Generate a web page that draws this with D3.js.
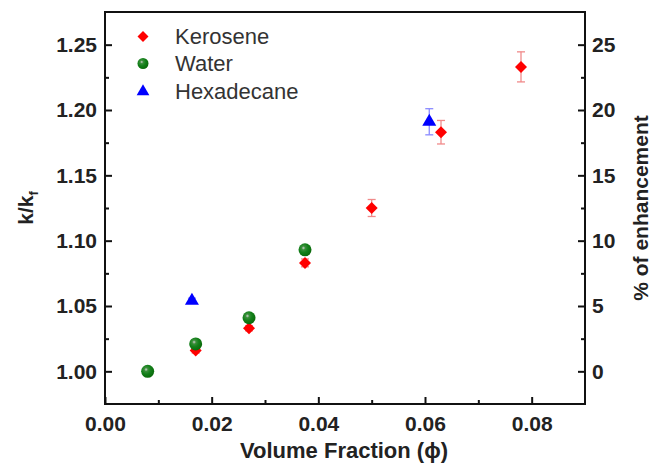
<!DOCTYPE html>
<html>
<head>
<meta charset="utf-8">
<script src="https://cdn.jsdelivr.net/npm/d3@7"></script>
<style>
  body { margin: 0; background: #fff; }
  text { font-family: "Liberation Sans", Arial, sans-serif; }
</style>
</head>
<body>
<script>
// data
var keroseneX = [0.017, 0.027, 0.0375, 0.050, 0.063, 0.078];
var keroseneY = [1.016, 1.033, 1.083, 1.125, 1.183, 1.233];
var keroseneErr = [0.002, 0.002, 0.003, 0.0065, 0.009, 0.0115];

var waterX = [0.008, 0.017, 0.027, 0.0375];
var waterY = [1.000, 1.021, 1.041, 1.093];

var hexX = [0.0163, 0.0608];
var hexY = [1.054, 1.191];
var hexErr = [0.002, 0.010];

var xTicks = [0, 0.02, 0.04, 0.06, 0.08];
var yTicks = [1.00, 1.05, 1.10, 1.15, 1.20, 1.25];
var pctTicks = [0, 5, 10, 15, 20, 25];

var legendNames = ["Kerosene", "Water", "Hexadecane"];

var width = 660, height = 464;
var margin = {top: 12, right: 76, bottom: 60, left: 105};

var svg = d3.select("body")
  .append("svg")
    .attr("width", width)
    .attr("height", height);

var defs = svg.append("defs");
var grad = defs.append("radialGradient")
    .attr("id", "ball")
    .attr("cx", "38%").attr("cy", "36%").attr("r", "65%");
grad.append("stop").attr("offset", "0%").attr("stop-color", "#d0d0d0");
grad.append("stop").attr("offset", "22%").attr("stop-color", "#3a8f3a");
grad.append("stop").attr("offset", "55%").attr("stop-color", "#13801a");
grad.append("stop").attr("offset", "100%").attr("stop-color", "#0a6a0a");

var x = d3.scaleLinear()
    .domain([0, 0.09])
    .range([margin.left, width - margin.right + 1]);

var y = d3.scaleLinear()
    .domain([0.975, 1.275])
    .range([height - margin.bottom, margin.top]);

// right axis: percent of enhancement, same as (k/kf - 1) * 100
var y2 = d3.scaleLinear()
    .domain([(0.975 - 1) * 100, (1.275 - 1) * 100])
    .range([height - margin.bottom, margin.top]);

var x0 = x.range()[0], x1 = x.range()[1];
var yb = y.range()[0], yt = y.range()[1];

function styleAxis(g) {
  g.select(".domain").remove();
  g.selectAll(".tick line").attr("stroke", "#111").attr("stroke-width", 2);
  g.selectAll(".tick text")
    .attr("fill", "#222")
    .style("font-size", "21px")
    .style("font-weight", "bold");
}

// minor ticks
svg.append("g")
  .attr("transform", "translate(0," + yb + ")")
  .call(d3.axisBottom(x).tickValues([0.01, 0.03, 0.05, 0.07]).tickSize(-4).tickFormat(""))
  .call(styleAxis);
svg.append("g")
  .attr("transform", "translate(" + x0 + ",0)")
  .call(d3.axisLeft(y).tickValues([1.025, 1.075, 1.125, 1.175, 1.225]).tickSize(-4).tickFormat(""))
  .call(styleAxis);
svg.append("g")
  .attr("transform", "translate(" + x1 + ",0)")
  .call(d3.axisRight(y2).tickValues([2.5, 7.5, 12.5, 17.5, 22.5]).tickSize(-4).tickFormat(""))
  .call(styleAxis);

// major ticks
svg.append("g")
  .attr("transform", "translate(0," + yb + ")")
  .call(d3.axisBottom(x).tickValues(xTicks).tickSize(-7).tickPadding(12).tickFormat(d3.format(".2f")))
  .call(styleAxis);
svg.append("g")
  .attr("transform", "translate(" + x0 + ",0)")
  .call(d3.axisLeft(y).tickValues(yTicks).tickSize(-7).tickPadding(8).tickFormat(d3.format(".2f")))
  .call(styleAxis);
svg.append("g")
  .attr("transform", "translate(" + x1 + ",0)")
  .call(d3.axisRight(y2).tickValues(pctTicks).tickSize(-7).tickPadding(7).tickFormat(d3.format("d")))
  .call(styleAxis);

// frame
svg.append("rect")
  .attr("x", x0).attr("y", yt)
  .attr("width", x1 - x0).attr("height", yb - yt)
  .attr("fill", "none")
  .attr("stroke", "#111")
  .attr("stroke-width", 2);

// axis titles
svg.append("text")
  .attr("x", 344)
  .attr("y", 458)
  .attr("text-anchor", "middle")
  .attr("fill", "#222")
  .style("font-size", "22px")
  .style("font-weight", "bold")
  .text("Volume Fraction (\u03D5)");

var yl = svg.append("text")
  .attr("transform", "translate(33," + ((yt + yb) / 2) + ") rotate(-90)")
  .attr("text-anchor", "middle")
  .attr("fill", "#222")
  .style("font-size", "21px")
  .style("font-weight", "bold");
yl.append("tspan").text("k/k");
yl.append("tspan").attr("dy", 5).style("font-size", "13px").text("f");

svg.append("text")
  .attr("transform", "translate(648," + ((yt + yb) / 2) + ") rotate(-90)")
  .attr("text-anchor", "middle")
  .attr("fill", "#222")
  .style("font-size", "21px")
  .style("font-weight", "bold")
  .text("% of enhancement");

// error bars
function errorBars(xs, ys, es, color) {
  var g = svg.append("g").attr("stroke", color).attr("stroke-width", 1.3);
  xs.forEach(function(d, i) {
    var cx = x(d), top = y(ys[i] + es[i]), bot = y(ys[i] - es[i]);
    g.append("line").attr("x1", cx).attr("x2", cx).attr("y1", top).attr("y2", bot);
    g.append("line").attr("x1", cx - 4).attr("x2", cx + 4).attr("y1", top).attr("y2", top);
    g.append("line").attr("x1", cx - 4).attr("x2", cx + 4).attr("y1", bot).attr("y2", bot);
  });
}
errorBars(keroseneX, keroseneY, keroseneErr, "#f08a8a");
errorBars(hexX, hexY, hexErr, "#8a8aff");

var diamond = d3.symbol().type(d3.symbolSquare).size(72);
var triangle = d3.symbol().type(d3.symbolTriangle).size(85);

// kerosene
svg.append("g").selectAll("path")
  .data(keroseneX)
  .enter()
  .append("path")
    .attr("d", diamond)
    .attr("transform", function(d, i) { return "translate(" + x(d) + "," + y(keroseneY[i]) + ") rotate(45)"; })
    .attr("fill", "#ff0000");

// water
svg.append("g").selectAll("circle")
  .data(waterX)
  .enter()
  .append("circle")
    .attr("cx", function(d) { return x(d); })
    .attr("cy", function(d, i) { return y(waterY[i]); })
    .attr("r", 6.5)
    .attr("fill", "url(#ball)");

// hexadecane
svg.append("g").selectAll("path")
  .data(hexX)
  .enter()
  .append("path")
    .attr("d", triangle)
    .attr("transform", function(d, i) { return "translate(" + x(d) + "," + y(hexY[i]) + ")"; })
    .attr("fill", "#0000ff");

// legend
var lg = svg.append("g");
var ly = [36.5, 63.5, 91.5];
lg.append("path")
  .attr("d", d3.symbol().type(d3.symbolSquare).size(60))
  .attr("transform", "translate(143," + ly[0] + ") rotate(45)")
  .attr("fill", "#ff0000");
lg.append("circle")
  .attr("cx", 143).attr("cy", ly[1]).attr("r", 5.5)
  .attr("fill", "url(#ball)");
lg.append("path")
  .attr("d", d3.symbol().type(d3.symbolTriangle).size(70))
  .attr("transform", "translate(143," + ly[2] + ")")
  .attr("fill", "#0000ff");
lg.selectAll("text")
  .data(legendNames)
  .enter()
  .append("text")
    .attr("x", 175)
    .attr("y", function(d, i) { return ly[i] + 7.5; })
    .attr("fill", "#333")
    .style("font-size", "22px")
    .text(function(d) { return d; });
</script>
</body>
</html>
